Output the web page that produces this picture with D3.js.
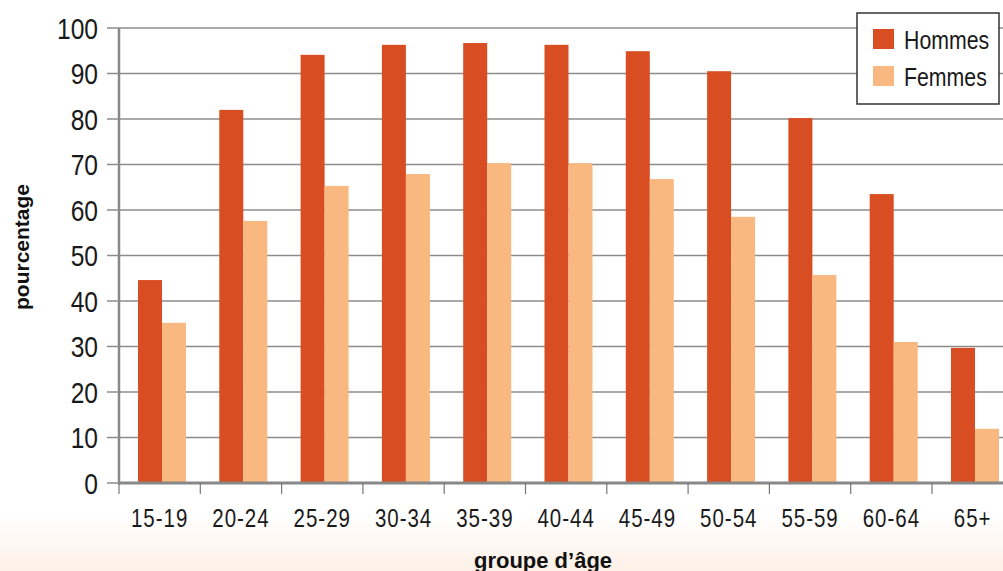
<!DOCTYPE html>
<html>
<head>
<meta charset="utf-8">
<script src="https://cdn.jsdelivr.net/npm/d3@7"></script>
<style>
  html, body { margin: 0; padding: 0; background: #fff; }
  svg { display: block; }
  .narrow { font-family: "Liberation Sans", Arial, sans-serif; fill: #1a1a1a; }
  .bold { font-family: "Liberation Sans", Arial, sans-serif; font-weight: bold; fill: #111; }
</style>
</head>
<body>
<svg id="chart" width="1003" height="571"></svg>
<script>
const categories = ["15-19","20-24","25-29","30-34","35-39","40-44","45-49","50-54","55-59","60-64","65+"];
const seriesNames = ["Hommes","Femmes"];
const hommes = [44.6, 82.0, 94.1, 96.3, 96.7, 96.3, 94.9, 90.5, 80.2, 63.5, 29.7];
const femmes = [35.2, 57.6, 65.3, 67.9, 70.3, 70.3, 66.8, 58.5, 45.7, 31.0, 11.9];
const yTicks = [0,10,20,30,40,50,60,70,80,90,100];
const colors = {Hommes: "#d84e22", Femmes: "#f9b880"};

const svg = d3.select("#chart");
const W = 1003, H = 571;
const SX = 0.82; // horizontal condensing of the narrow face

// background band at bottom
const defs = svg.append("defs");
const grad = defs.append("linearGradient").attr("id","bg").attr("x1",0).attr("y1",0).attr("x2",0).attr("y2",1);
grad.append("stop").attr("offset","0%").attr("stop-color","#ffffff");
grad.append("stop").attr("offset","100%").attr("stop-color","#fdf0e6");
svg.append("rect").attr("x",0).attr("y",515).attr("width",W).attr("height",H-515).attr("fill","url(#bg)");

const left = 119, bandW = 81.3;
const x0 = d3.scaleBand().domain(categories).range([left, left + bandW*categories.length]).padding(0);
const x1 = d3.scaleBand().domain(seriesNames).range([19, 67]).padding(0);
const y = d3.scaleLinear().domain([0,100]).range([483, 28]);

// gridlines
svg.append("g").selectAll("line").data(yTicks.filter(d => d > 0)).join("line")
  .attr("x1", 107).attr("x2", W)
  .attr("y1", d => y(d)).attr("y2", d => y(d))
  .attr("stroke", "#8c8c8c").attr("stroke-width", 1.5);
svg.append("line").attr("x1",107).attr("x2",left).attr("y1",y(0)).attr("y2",y(0)).attr("stroke","#8c8c8c").attr("stroke-width",1.5);

// y tick labels
svg.append("g").selectAll("text").data(yTicks).join("text")
  .attr("class","narrow")
  .attr("transform", d => `translate(98,${y(d)}) scale(${SX},1)`)
  .attr("dy","0.36em")
  .attr("text-anchor","end")
  .attr("font-size", 30)
  .text(d => d);

// bars
const groups = svg.append("g").selectAll("g").data(categories).join("g")
  .attr("transform", d => `translate(${x0(d)},0)`);
groups.selectAll("rect").data((d,i) => [{k:"Hommes", v:hommes[i]}, {k:"Femmes", v:femmes[i]}]).join("rect")
  .attr("x", d => x1(d.k))
  .attr("width", x1.bandwidth())
  .attr("y", d => y(d.v))
  .attr("height", d => y(0) - y(d.v))
  .attr("fill", d => colors[d.k]);

// axis lines
svg.append("line").attr("x1",left).attr("x2",left).attr("y1",y(100)).attr("y2",y(0)+1.5)
  .attr("stroke","#888").attr("stroke-width",2.5);
svg.append("line").attr("x1",left).attr("x2",W).attr("y1",y(0)).attr("y2",y(0))
  .attr("stroke","#888").attr("stroke-width",2.8);
const bounds = categories.map(c => x0(c)).concat([x0(categories[categories.length-1]) + x0.bandwidth()]);
svg.append("g").selectAll("line").data(bounds).join("line")
  .attr("x1", d => d).attr("x2", d => d)
  .attr("y1", y(0)).attr("y2", y(0) + 11)
  .attr("stroke","#777").attr("stroke-width",1.2);

// x labels
svg.append("g").selectAll("text").data(categories).join("text")
  .attr("class","narrow")
  .attr("transform", d => `translate(${x0(d) + x0.bandwidth()/2},527) scale(${SX},1)`)
  .attr("text-anchor","middle")
  .attr("font-size", 25)
  .attr("letter-spacing", 1.2)
  .text(d => d);

// axis titles
svg.append("text").attr("class","bold")
  .attr("transform","translate(29,247) rotate(-90)")
  .attr("text-anchor","middle").attr("font-size",21)
  .text("pourcentage");
svg.append("text").attr("class","bold")
  .attr("x", 543).attr("y", 568)
  .attr("text-anchor","middle").attr("font-size",22)
  .text("groupe d’âge");

// legend
const lg = svg.append("g");
lg.append("rect").attr("x",857).attr("y",13).attr("width",142).attr("height",91)
  .attr("fill","#fff").attr("stroke","#333").attr("stroke-width",1.5);
const items = lg.selectAll("g").data(seriesNames).join("g")
  .attr("transform", (d,i) => `translate(873,${29 + i*37})`);
items.append("rect").attr("width",21).attr("height",20).attr("fill", d => colors[d]);
items.append("text").attr("class","narrow")
  .attr("transform", `translate(31,20) scale(${SX},1)`)
  .attr("font-size", 26)
  .text(d => d);
</script>
</body>
</html>
